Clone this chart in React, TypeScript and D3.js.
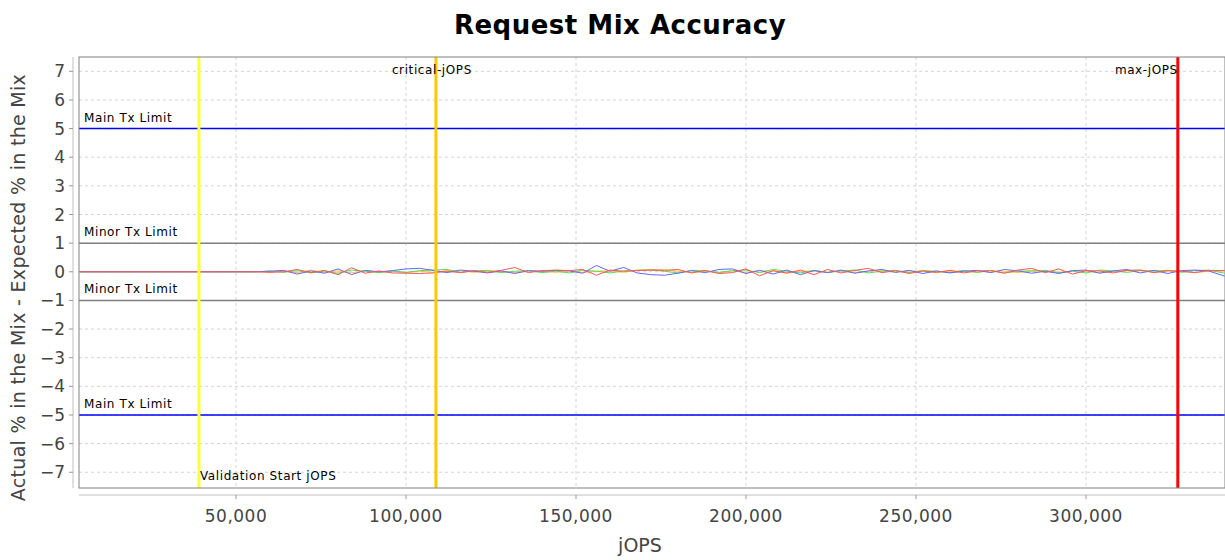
import * as d3 from 'd3';

const xTicks = [50000, 100000, 150000, 200000, 250000, 300000];
const yTicks = [-7, -6, -5, -4, -3, -2, -1, 0, 1, 2, 3, 4, 5, 6, 7];
const limitLines = [
  { y: 5, label: 'Main Tx Limit', color: '#0000ff' },
  { y: 1, label: 'Minor Tx Limit', color: '#808080' },
  { y: -1, label: 'Minor Tx Limit', color: '#808080' },
  { y: -5, label: 'Main Tx Limit', color: '#0000ff' },
];
const markers = [
  { x: 39100, label: 'Validation Start jOPS', color: '#ffff33', anchor: 'start', dx: 1, pos: 'bottom' },
  { x: 108800, label: 'critical-jOPS', color: '#ffc800', anchor: 'start', dx: -44, pos: 'top' },
  { x: 327000, label: 'max-jOPS', color: '#ff0000', anchor: 'end', dx: 0, pos: 'top' },
];
// jOPS steps of the run
const jops = [4000, 39100, 44000, 48000, 52000, 56000, 60000, 64000, 68000, 72000, 76000, 80000, 84000, 88000, 92000, 96000, 100000, 104000, 108000, 112000, 116000, 120000, 124000, 128000, 132000, 136000, 140000, 144000, 148000, 152000, 156000, 160000, 164000, 168000, 172000, 176000, 180000, 184000, 188000, 192000, 196000, 200000, 204000, 208000, 212000, 216000, 220000, 224000, 228000, 232000, 236000, 240000, 244000, 248000, 252000, 256000, 260000, 264000, 268000, 272000, 276000, 280000, 284000, 288000, 292000, 296000, 300000, 304000, 308000, 312000, 316000, 320000, 324000, 328000, 332000, 336000, 340800];
const seriesBlue = [0, 0, 0, 0, 0, 0, 0.02, 0.05, -0.08, 0.03, -0.05, 0.1, -0.1, 0.05, 0, 0.04, 0.1, 0.12, 0.05, -0.03, 0.06, 0.02, -0.04, 0.03, -0.06, 0.04, 0.02, 0.05, 0.03, -0.05, 0.22, 0.02, 0.15, -0.04, -0.1, -0.12, -0.05, 0.04, -0.03, 0.08, 0.1, -0.06, 0.05, -0.08, 0.06, -0.1, 0.04, -0.03, 0.06, -0.05, 0.03, 0.08, -0.02, 0.05, -0.06, 0.03, -0.04, 0.02, 0.05, -0.03, 0.08, 0.03, -0.05, 0.02, -0.06, 0.04, 0.06, -0.05, 0.03, 0.08, -0.04, 0.05, -0.06, 0.04, 0.06, 0.03, -0.15];
const seriesRed = [0, 0, 0, 0, 0, 0, -0.02, 0, 0.08, -0.03, 0.05, -0.1, 0.14, -0.05, 0.03, -0.04, -0.05, -0.06, -0.04, 0.02, -0.03, 0.04, -0.02, 0.05, 0.15, -0.03, 0.04, 0.06, 0.04, 0.08, -0.12, 0.06, 0.02, 0.04, 0.06, 0.05, 0.08, -0.04, 0.05, -0.06, -0.03, 0.1, -0.14, 0.04, -0.05, 0.06, -0.1, 0.08, -0.04, 0.05, 0.12, -0.03, 0.04, -0.06, 0.03, -0.02, 0.05, -0.04, 0.03, 0.04, -0.05, 0.06, 0.12, -0.03, 0.1, -0.08, 0.04, 0.03, -0.04, 0.05, 0.06, -0.03, 0.04, 0.02, -0.03, 0.05, 0.04];
const seriesGreen = [0, 0, 0, 0, 0, 0, 0.03, -0.02, 0.04, -0.04, 0.02, -0.05, 0.06, 0.02, -0.03, 0.03, -0.02, 0.04, 0.06, 0.08, -0.02, 0.03, 0.05, -0.03, 0.02, 0.04, -0.03, 0.02, -0.04, 0.05, 0.02, -0.04, 0.03, 0.05, 0.06, 0.02, -0.04, 0.05, 0.03, -0.02, 0.04, 0.06, -0.03, 0.08, 0.02, -0.04, 0.05, -0.02, 0.03, 0.06, -0.04, 0.02, 0.05, -0.03, 0.04, 0.02, -0.03, 0.05, -0.02, 0.04, -0.04, 0.03, 0.02, 0.05, -0.03, 0.02, -0.04, 0.06, 0.03, -0.02, 0.04, 0.03, 0.05, -0.02, 0.04, 0.06, -0.05];
const seriesOrange = [0, 0, 0, 0, 0, 0, 0, 0.02, -0.03, 0.06, -0.02, 0.03, -0.04, 0.03, -0.02, 0.02, -0.03, 0.02, -0.02, 0.04, 0.03, -0.02, 0.03, 0.02, -0.03, 0.02, 0.03, -0.02, 0.04, -0.03, 0.02, 0.03, -0.02, 0.06, 0.08, 0.07, 0.02, -0.03, 0.02, -0.04, 0.03, -0.02, 0.04, 0.02, -0.03, 0.02, 0.03, -0.02, 0.03, -0.03, 0.02, 0.04, -0.02, 0.03, 0.02, -0.03, 0.02, 0.03, -0.02, 0.04, 0.02, -0.03, 0.05, 0.02, -0.02, 0.03, 0.02, -0.03, 0.02, 0.04, 0.06, -0.02, 0.03, 0.02, -0.03, 0.02, 0.03];
const series = [
  { values: seriesOrange, color: '#ffc040' },
  { values: seriesGreen, color: '#55dd55' },
  { values: seriesBlue, color: '#6666ff' },
  { values: seriesRed, color: '#ff5555' },
];

export default function App() {
  const W = 1225, H = 560;
  const L = 79, R = 1225, T = 57, B = 488;
  const x = d3.scaleLinear().domain([3824, 340880]).range([L, R]);
  const y = d3.scaleLinear().domain([-7.55, 7.5]).range([B, T]);
  const line = d3.line<number>().x((_, i) => x(jops[i])).y(d => y(d));
  const font = 'DejaVu Sans, sans-serif';
  return (
    <svg width={W} height={H} style={{ position: 'absolute', left: 0, top: 0, background: '#fff' }} fontFamily={font}>
      <text x={620} y={34} textAnchor="middle" fontSize={26} fontWeight="bold" letterSpacing={0.5}>Request Mix Accuracy</text>
      <rect x={L} y={T} width={R - L} height={B - T} fill="#fff" />
      {xTicks.map(t => <line key={t} x1={x(t)} x2={x(t)} y1={T} y2={B} stroke="#d4d4d4" strokeDasharray="3,3" />)}
      {yTicks.map(t => <line key={t} x1={L} x2={R} y1={y(t)} y2={y(t)} stroke="#d4d4d4" strokeDasharray="3,3" />)}
      {limitLines.map((l, i) => (
        <g key={i}>
          <line x1={L} x2={R} y1={y(l.y)} y2={y(l.y)} stroke={l.color} strokeWidth={1.5} />
          <text x={L + 5} y={y(l.y) - 7} fontSize={12} letterSpacing={0.6}>{l.label}</text>
        </g>
      ))}
      {series.map((s, i) => <path key={i} d={line(s.values) || ''} fill="none" stroke={s.color} strokeWidth={1} />)}
      {markers.map((m, i) => (
        <g key={i}>
          <line x1={x(m.x)} x2={x(m.x)} y1={T} y2={B} stroke={m.color} strokeWidth={3} />
          <text x={x(m.x) + m.dx} y={m.pos === 'top' ? T + 17 : B - 8} fontSize={12} letterSpacing={0.6} textAnchor={m.anchor}>{m.label}</text>
        </g>
      ))}
      <rect x={L} y={T} width={R - L} height={B - T} fill="none" stroke="#808080" />
      <line x1={L} x2={R} y1={B + 7} y2={B + 7} stroke="#c0c0c0" />
      <line x1={L - 6} x2={L - 6} y1={T} y2={B} stroke="#c0c0c0" />
      {xTicks.map(t => (
        <g key={t}>
          <line x1={x(t)} x2={x(t)} y1={B + 7} y2={B + 11} stroke="#999" />
          <text x={x(t)} y={B + 34} textAnchor="middle" fontSize={17} fill="#444" letterSpacing={0.5}>{d3.format(',')(t)}</text>
        </g>
      ))}
      {yTicks.map(t => (
        <g key={t}>
          <line x1={L - 10} x2={L - 6} y1={y(t)} y2={y(t)} stroke="#999" />
          <text x={L - 14} y={y(t) + 6} textAnchor="end" fontSize={17} fill="#444">{t < 0 ? '\u2212' + Math.abs(t) : t}</text>
        </g>
      ))}
      <text x={640} y={552} textAnchor="middle" fontSize={19} fill="#444">jOPS</text>
      <text transform={`translate(25,${(T + B) / 2 + 15}) rotate(-90)`} textAnchor="middle" fontSize={19} fill="#444" letterSpacing={0.3}>Actual % in the Mix - Expected % in the Mix</text>
    </svg>
  );
}
